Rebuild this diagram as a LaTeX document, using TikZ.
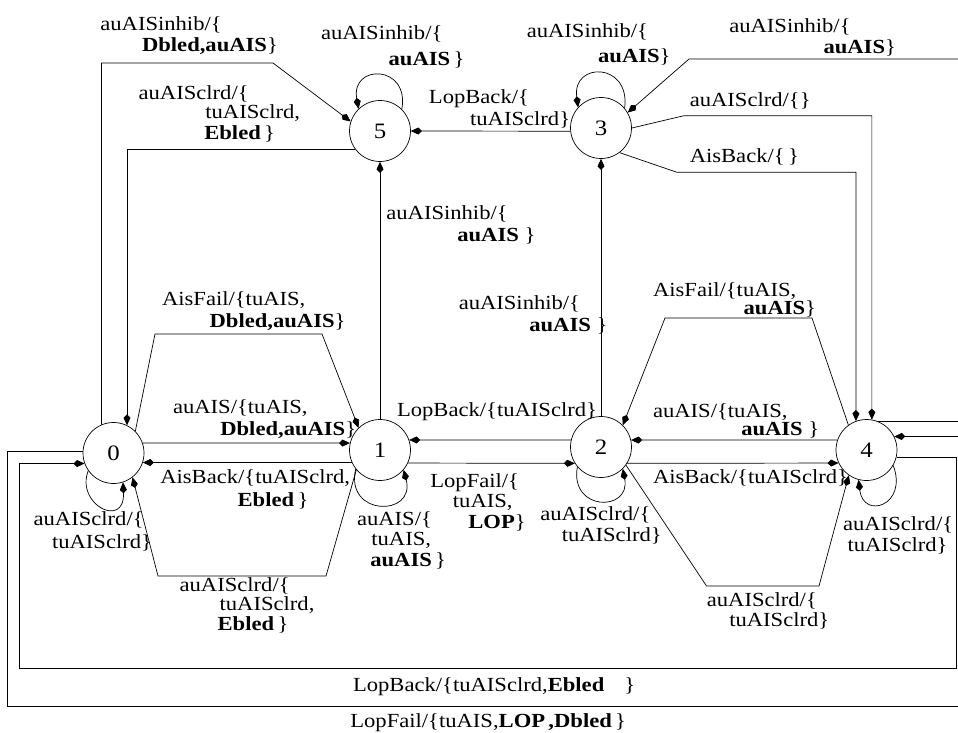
\documentclass[tikz,border=0pt]{standalone}
\usepackage{fontspec}
\setmainfont{Liberation Serif}[FakeStretch=1.13]
\usetikzlibrary{arrows.meta}
\begin{document}
\begin{tikzpicture}[x=1pt,y=-1pt,line width=0.7pt,
  state/.style={circle,draw,minimum size=61pt,inner sep=0pt,font=\fontsize{22}{24}\selectfont},
  lbl/.style={anchor=base west,inner sep=0pt,font=\fontsize{20}{21}\selectfont},
  trans/.style={-{Kite[length=11pt,width=7pt,inset=3.5pt]}}]
\useasboundingbox (0,0) rectangle (958,733);
\clip (0,0) rectangle (958,733);

% states
\node[state] (n0) at (113.5,453) {0};
\node[state] (n1) at (380,450) {1};
\node[state] (n2) at (601,447) {2};
\node[state] (n3) at (601,128) {3};
\node[state] (n4) at (866.5,450) {4};
\node[state] (n5) at (380,131) {5};

% transitions along the middle row
\draw[trans] (n0.19) -- (n1.167);
\draw[trans] (n1.204) -- (n0.-18);
\draw[trans] (n2.167) -- (n1.19);
\draw[trans] (n1.-25) -- (n2.212);
\draw[trans] (n4.161) -- (n2.13);
\draw[trans] (n2.-32) -- (n4.205);

% vertical transitions
\draw[trans] (n1.north) -- (n5.south);
\draw[trans] (n2.north) -- (n3.south);
\draw[trans] (n3.186) -- (n5.east);

% routed transitions
\draw[trans] (n0.113) |- (273,63) -- (n5.162);
\draw[trans] (n5.217) -| (n0.64);
\draw[trans] (n0.45) -- (155,334) -- (322,334) -- (n1.134);
\draw[trans] (n1.220) -- (326,576) -- (158,576) -- (n0.-52);
\draw[trans] (n3.0) -- (684,115.7) -| (n4.80);
\draw[trans] (n3.-53) -- (677,172.3) -| (n4.110);
\draw[trans] (n4.68) -| (970,59) -- (689,59) -- (n3.30);
\draw[trans] (n4.126) -- (812,318) -- (665,318) -- (n2.45);
\draw[trans] (n2.-36) -- (706.5,586) -- (819,586) -- (n4.235);
\draw[trans] (n4.-13) -| (956,668) -- (19.3,668) |- (n0.200);
\draw[trans] (n0.176) -| (7.3,706) -- (970,706) |- (n4.26);

% self loops
\draw[trans] (n0.215) .. controls +(-13,34) and +(2,47) .. (n0.288);
\draw[trans] (n1.218) .. controls +(-11,48) and +(12,47) .. (n1.-40);
\draw[trans] (n2.220) .. controls +(-8,45) and +(8,43) .. (n2.-45);
\draw[trans] (n4.-30) .. controls +(15,40) and +(5,40) .. (n4.255);
\draw[trans] (n5.45) .. controls +(8,-45) and +(-8,-45) .. (n5.134);
\draw[trans] (n3.40) .. controls +(6,-46) and +(-6,-46) .. (n3.138);

% labels
\node[lbl] (la1) at (100,30.5) {auAISinhib/\{};
\node[lbl] (la2) at (141.7,51.5) {\textbf{Dbled,auAIS}\}};
\node[lbl] (lb1) at (320.7,40) {auAISinhib/\{};
\node[lbl] (lb2) at (388.3,66) {\textbf{auAIS}\,\}};
\node[lbl] (lc1) at (138.3,100) {auAISclrd/\{};
\node[lbl] (lc2) at (205,118.5) {tuAISclrd,};
\node[lbl] (lc3) at (204,139.5) {\textbf{Ebled}\,\}};
\node[lbl] (ld1) at (428.6,104) {LopBack/\{};
\node[lbl] (ld2) at (469.8,125) {tuAISclrd\}};
\node[lbl] (le1) at (526.4,38) {auAISinhib/\{};
\node[lbl] (le2) at (597.8,62.5) {\textbf{auAIS}\}};
\node[lbl] (lf1) at (728.9,33) {auAISinhib/\{};
\node[lbl] (lf2) at (823.2,54) {\textbf{auAIS}\}};
\node[lbl] (lg1) at (689.4,107) {auAISclrd/\{\}};
\node[lbl] (lh1) at (689.4,162) {AisBack/\{\,\}};
\node[lbl] (li1) at (386,219) {auAISinhib/\{};
\node[lbl] (li2) at (457,241) {\textbf{auAIS}\ \}};
\node[lbl] (lj1) at (458.4,309) {auAISinhib/\{};
\node[lbl] (lj2) at (529,331) {\textbf{auAIS}\ \}};
\node[lbl] (lk1) at (161.7,305) {AisFail/\{tuAIS,};
\node[lbl] (lk2) at (209.3,327) {\textbf{Dbled,auAIS}\}};
\node[lbl] (ll1) at (172.7,413.5) {auAIS/\{tuAIS,};
\node[lbl] (ll2) at (220,435) {\textbf{Dbled,auAIS}\}};
\node[lbl] (lm1) at (396.7,416) {LopBack/\{tuAISclrd\}};
\node[lbl] (ln1) at (160,483.5) {AisBack/\{tuAISclrd,};
\node[lbl] (ln2) at (237.3,506.5) {\textbf{Ebled}\,\}};
\node[lbl] (lo1) at (33.3,525) {auAISclrd/\{};
\node[lbl] (lo2) at (51.7,548) {tuAISclrd\}};
\node[lbl] (lp1) at (179.3,591.5) {auAISclrd/\{};
\node[lbl] (lp2) at (219.3,610) {tuAISclrd,};
\node[lbl] (lp3) at (217.3,630) {\textbf{Ebled}\,\}};
\node[lbl] (lq1) at (356.7,525) {auAIS/\{};
\node[lbl] (lq2) at (371,545) {tuAIS,};
\node[lbl] (lq3) at (370,566) {\textbf{auAIS}\,\}};
\node[lbl] (lr1) at (430,487) {LopFail/\{};
\node[lbl] (lr2) at (452.6,507) {tuAIS,};
\node[lbl] (lr3) at (468,528) {\textbf{LOP}\}};
\node[lbl] (ls1) at (540,520) {auAISclrd/\{};
\node[lbl] (ls2) at (561.4,541.5) {tuAISclrd\}};
\node[lbl] (lt1) at (652.7,483.5) {AisBack/\{tuAISclrd\}};
\node[lbl] (lu1) at (652.7,417) {auAIS/\{tuAIS,};
\node[lbl] (lu2) at (740.9,435) {\textbf{auAIS}\ \}};
\node[lbl] (lv1) at (652.7,296) {AisFail/\{tuAIS,};
\node[lbl] (lv2) at (743.3,314) {\textbf{auAIS}\}};
\node[lbl] (lw1) at (842.8,530) {auAISclrd/\{};
\node[lbl] (lw2) at (847.2,551.5) {tuAISclrd\}};
\node[lbl] (lx1) at (706.5,606.5) {auAISclrd/\{};
\node[lbl] (lx2) at (728.9,626.5) {tuAISclrd\}};
\node[lbl] (ly1) at (352.7,691.5) {LopBack/\{tuAISclrd,\textbf{Ebled}\quad\}};
\node[lbl] (lz1) at (350,727.5) {LopFail/\{tuAIS,\textbf{LOP\,,Dbled}\,\}};
\end{tikzpicture}
\end{document}
